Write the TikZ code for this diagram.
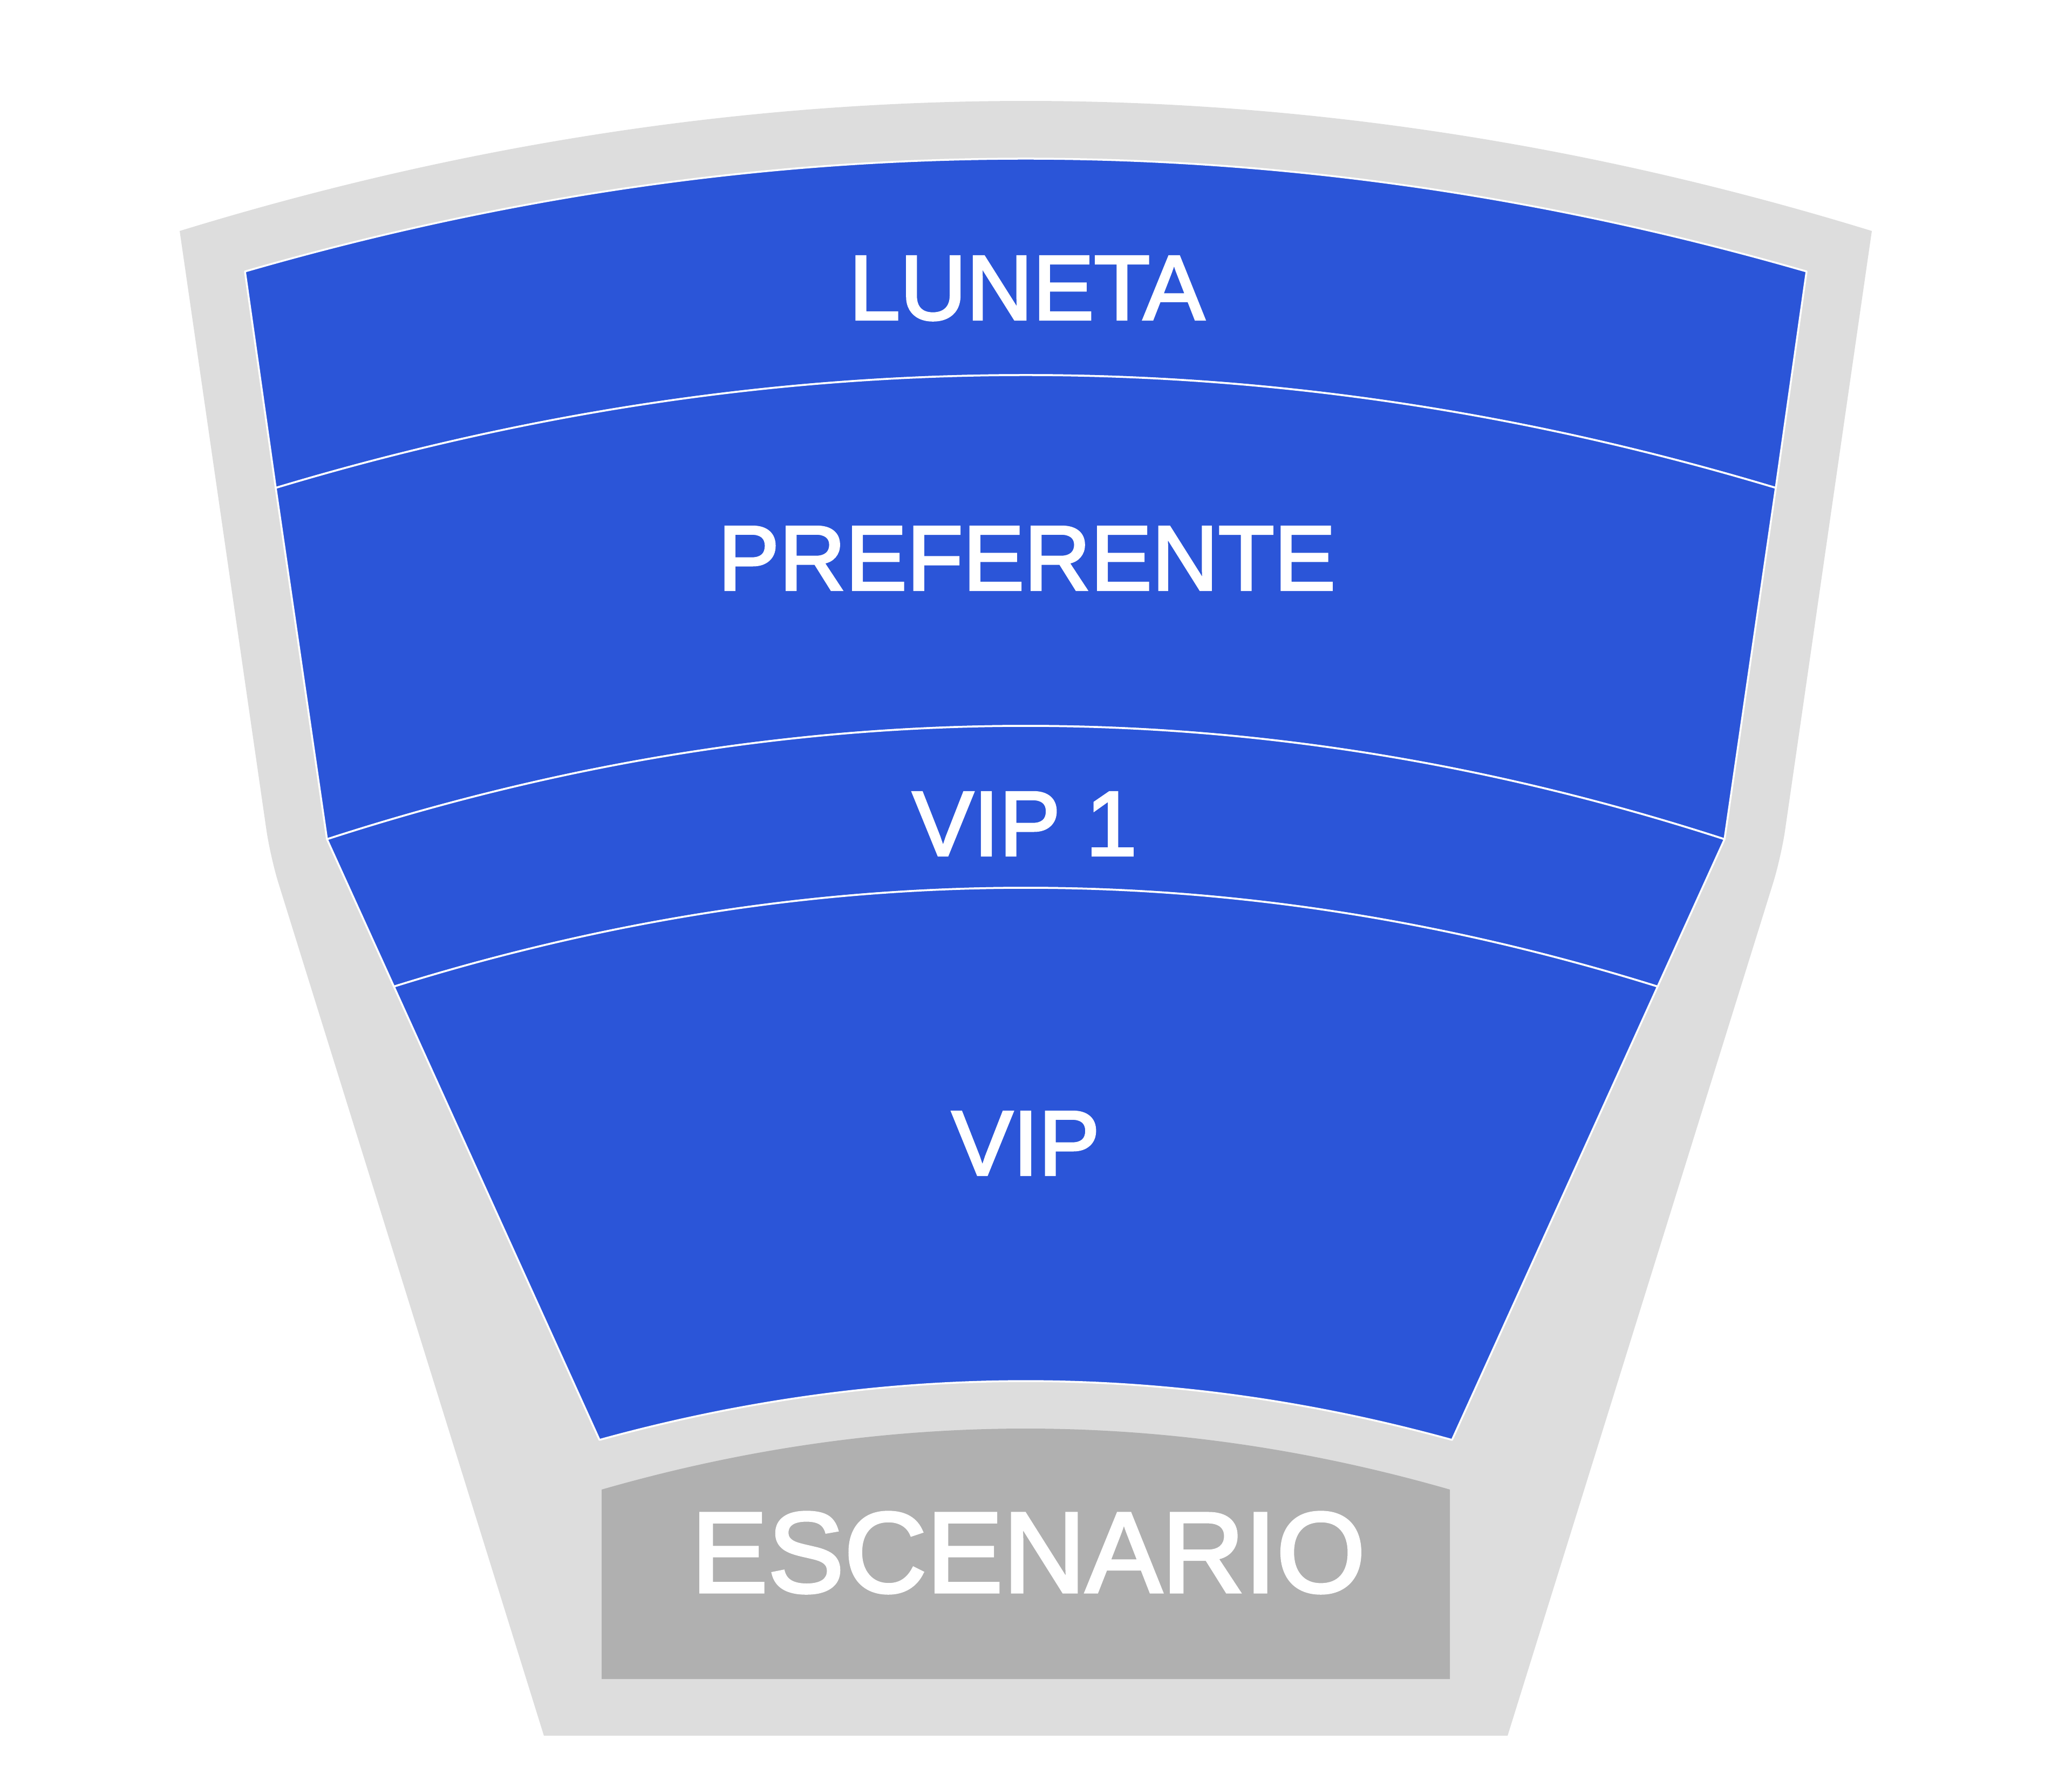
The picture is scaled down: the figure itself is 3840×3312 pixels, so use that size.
\documentclass[tikz,border=0pt]{standalone}
\usepackage{fontspec}
\setmainfont{Liberation Sans}
\newfontfamily\labelfont{Liberation Sans}[FakeBold=2.5]
\definecolor{frame}{HTML}{DDDDDD}
\definecolor{seat}{RGB}{43,85,216}
\definecolor{stage}{HTML}{B0B0B0}
\tikzset{
  zone/.style={fill=seat, draw=white, line width=0.035cm, line join=round},
  zonelabel/.style={text=white, anchor=base, inner sep=0pt, font=\labelfont\fontsize{48.4pt}{58pt}\selectfont},
  stagelabel/.style={text=white, anchor=base, inner sep=0pt, font=\labelfont\fontsize{60.3pt}{72pt}\selectfont}
}
\begin{document}
\begin{tikzpicture}[x=0.01cm, y=-0.01cm]
\useasboundingbox (0,0) rectangle (3840,3312);
% outer frame
\fill[frame] (333,428) .. controls (1378.3,106.7) and (2423.7,106.7) .. (3469,428)
  [rounded corners=0.5cm] -- (3301,1588) [sharp corners] -- (2794,3216) -- (1008,3216) [rounded corners=0.5cm] -- (501,1588) [sharp corners] -- cycle;
% LUNETA
\path[zone] (454,503) .. controls (1418.7,224.3) and (2383.3,224.3) .. (3348,503)
  -- (3291,904) .. controls (2364.3,625.3) and (1437.7,625.3) .. (511,904) -- cycle;
% PREFERENTE
\path[zone] (511,904) .. controls (1437.7,625.3) and (2364.3,625.3) .. (3291,904)
  -- (3196,1555) .. controls (2332.7,1275) and (1469.3,1275) .. (606,1555) -- cycle;
% VIP 1
\path[zone] (606,1555) .. controls (1469.3,1275) and (2332.7,1275) .. (3196,1555)
  -- (3072,1828) .. controls (2291.3,1584) and (1510.7,1584) .. (730,1828) -- cycle;
% VIP
\path[zone] (730,1828) .. controls (1510.7,1584) and (2291.3,1584) .. (3072,1828)
  -- (2691,2668) .. controls (2164.3,2522.7) and (1637.7,2522.7) .. (1111,2668) -- cycle;
% stage
\fill[stage] (1115,2760) .. controls (1639,2609.3) and (2163,2609.3) .. (2687,2760)
  -- (2687,3111) -- (1115,3111) -- cycle;
% labels
\node[zonelabel] (luneta) at (1903,592) {LUNETA};
\node[zonelabel] (preferente) at (1903,1093) {PREFERENTE};
\node[zonelabel] (vipone) at (1899,1585) {VIP 1};
\node[zonelabel] (vip) at (1901,2177) {VIP};
\node[stagelabel] (escenario) at (1906,2950) {ESCENARIO};
\end{tikzpicture}
\end{document}
